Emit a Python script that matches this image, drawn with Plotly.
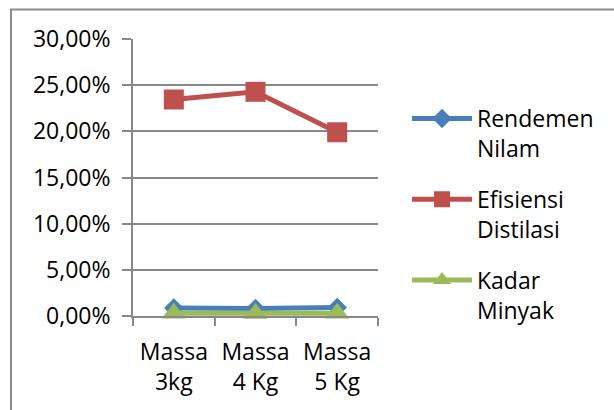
import plotly.graph_objects as go

# Categories and series (fractions, shown as percentages)
categories = ["Massa<br>3kg", "Massa<br>4 Kg", "Massa<br>5 Kg"]
rendemen_nilam = [0.0086, 0.0081, 0.0092]
efisiensi_distilasi = [0.2345, 0.2428, 0.1990]
kadar_minyak = [0.0029, 0.0028, 0.0030]

series_names = ["Rendemen<br>Nilam", "Efisiensi<br>Distilasi", "Kadar<br>Minyak"]
series_values = [rendemen_nilam, efisiensi_distilasi, kadar_minyak]
series_colors = ["#4A7EBB", "#C0504D", "#9BBB59"]
series_symbols = ["diamond", "square", "triangle-up"]
series_sizes = [15, 20, 21]

FONT = "Open Sans"
GRID = "#888888"

fig = go.Figure()
for name, vals, color, sym, size in zip(series_names, series_values,
                                        series_colors, series_symbols, series_sizes):
    fig.add_trace(go.Scatter(
        x=categories, y=vals, name=name, legendgroup=name,
        mode="lines+markers", cliponaxis=False,
        line=dict(color=color, width=5),
        marker=dict(symbol=sym, size=size, color=color,
                    line=dict(width=0)),
    ))

W, H = 614, 410
L, R, T, B = 133, 236, 39, 94
pw, ph = W - L - R, H - T - B

def px_x(x):
    return (x - L) / pw

def px_y(y):
    return (H - B - y) / ph

fig.update_layout(
    width=W, height=H,
    margin=dict(l=L, r=R, t=T, b=B, pad=0),
    paper_bgcolor="white", plot_bgcolor="white",
    separators=",.",
    font=dict(family=FONT, size=23, color="#000000"),
    showlegend=True,
    legend=dict(
        x=px_x(407), y=px_y(97), xanchor="left", yanchor="top",
        font=dict(family=FONT, size=23, color="#000000"),
        bgcolor="rgba(0,0,0,0)", borderwidth=0,
        valign="top", tracegroupgap=18, itemwidth=60,
    ),
    xaxis=dict(
        type="category", range=[-0.5, 2.5],
        showgrid=False, showline=True, linecolor=GRID, linewidth=1.5,
        ticks="outside", tickson="boundaries", ticklen=8,
        tickcolor=GRID, tickwidth=1.5,
        tickfont=dict(family=FONT, size=23, color="#000000"),
        ticklabelstandoff=15,
    ),
    yaxis=dict(
        range=[0, 0.30], dtick=0.05, tickformat=".2%",
        showgrid=True, gridcolor=GRID, gridwidth=1.5,
        showline=True, linecolor=GRID, linewidth=1.8,
        zeroline=False,
        ticks="outside", ticklen=9, tickcolor=GRID, tickwidth=1.5,
        tickfont=dict(family=FONT, size=23, color="#000000"),
        ticklabelstandoff=7,
    ),
    shapes=[dict(
        type="rect", xref="paper", yref="paper",
        x0=px_x(11), x1=px_x(640), y0=px_y(440), y1=px_y(9.5),
        line=dict(color="#8C8C8C", width=2), fillcolor="rgba(0,0,0,0)",
        layer="below",
    )],
)

fig.write_html("out.html")
